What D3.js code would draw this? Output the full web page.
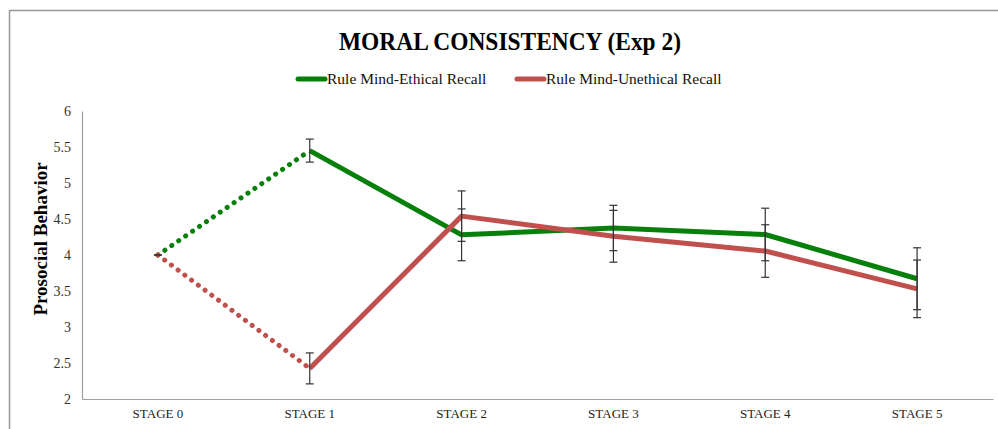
<!DOCTYPE html>
<html><head><meta charset="utf-8">
<script src="https://cdn.jsdelivr.net/npm/d3@7"></script>
<style>body{margin:0;background:#fff}svg{display:block}</style>
</head><body>
<svg id="c" width="998" height="429"></svg>
<script>
const stages = ["STAGE 0","STAGE 1","STAGE 2","STAGE 3","STAGE 4","STAGE 5"];
const ethical = [4.0, 5.45, 4.28, 4.375, 4.285, 3.67];
const ethicalErr = [0, 0.16, 0.36, 0.315, 0.365, 0.43];
const unethical = [4.0, 2.425, 4.54, 4.26, 4.055, 3.53];
const unethicalErr = [0, 0.215, 0.35, 0.36, 0.365, 0.40];
const yTicks = [2, 2.5, 3, 3.5, 4, 4.5, 5, 5.5, 6];
const seriesNames = ["Rule Mind-Ethical Recall", "Rule Mind-Unethical Recall"];
const colors = ["#07800b", "#c0504d"];

const svg = d3.select("#c");
const serif = "'Liberation Serif','Times New Roman',serif";

// frame
svg.append("path").attr("d","M9.5,429 V10.5 H998").attr("fill","none")
  .attr("stroke","#999").attr("stroke-width",1.5);

const x = d3.scaleBand().domain(stages).range([82, 993]);
const y = d3.scaleLinear().domain([2, 6]).range([399, 111]);
const cx = s => x(s) + x.bandwidth()/2;

// axes
const yAxis = svg.append("g").attr("transform","translate(82,0)")
  .call(d3.axisLeft(y).tickValues(yTicks).tickSize(0).tickPadding(11).tickFormat(d3.format("")));
yAxis.select(".domain").attr("stroke","#a0a0a0").attr("stroke-width",1.2);
yAxis.selectAll("text").attr("font-family",serif).attr("font-size",14).attr("fill","#333");

const xAxis = svg.append("g").attr("transform","translate(0,399)")
  .call(d3.axisBottom(x).tickSize(0).tickPadding(10));
xAxis.select(".domain").attr("stroke","#a0a0a0").attr("stroke-width",1.2);
xAxis.selectAll("text").attr("font-family",serif).attr("font-size",13).attr("fill","#222");

// title
svg.append("text").attr("x",510).attr("y",50).attr("text-anchor","middle")
  .attr("font-family",serif).attr("font-weight","bold").attr("font-size",26).attr("fill","#000")
  .attr("textLength",342).attr("lengthAdjust","spacingAndGlyphs")
  .text("MORAL CONSISTENCY (Exp 2)");

// y label
svg.append("text").attr("transform","translate(47,239) rotate(-90)").attr("text-anchor","middle")
  .attr("font-family",serif).attr("font-weight","bold").attr("font-size",19).attr("fill","#000")
  .text("Prosocial Behavior");

// legend
const legX = [298, 517];
seriesNames.forEach((n,i)=>{
  svg.append("line").attr("x1",legX[i]).attr("x2",legX[i]+27).attr("y1",79).attr("y2",79)
    .attr("stroke",colors[i]).attr("stroke-width",5).attr("stroke-linecap","round");
  svg.append("text").attr("x",legX[i]+29).attr("y",84).attr("font-family",serif)
    .attr("font-size",15.5).attr("fill","#111").text(n);
});

const line = d3.line().x((d,i)=>cx(d.s)).y(d=>y(d.v));
const series = [[ethical, ethicalErr],[unethical, unethicalErr]];

series.forEach(([vals,errs],k)=>{
  const pts = stages.map((s,i)=>({s, v: vals[i]}));
  // dotted segment stage0 -> stage1
  svg.append("path").attr("d", line(pts.slice(0,2))).attr("fill","none")
    .attr("stroke",colors[k]).attr("stroke-width",5).attr("stroke-linecap","round")
    .attr("stroke-dasharray","0.1 8.3");
  // solid from stage1
  svg.append("path").attr("d", line(pts.slice(1))).attr("fill","none")
    .attr("stroke",colors[k]).attr("stroke-width",5).attr("stroke-linejoin","round");
});

// error bars
series.forEach(([vals,errs],k)=>{
  stages.forEach((s,i)=>{
    const g = svg.append("g").attr("stroke","#333").attr("stroke-width",1.2);
    const X = cx(s), hi = y(vals[i]+errs[i]), lo = y(vals[i]-errs[i]);
    if (errs[i] > 0) g.append("line").attr("x1",X).attr("x2",X).attr("y1",hi).attr("y2",lo);
    g.append("line").attr("x1",X-4).attr("x2",X+4).attr("y1",hi).attr("y2",hi);
    if (errs[i] > 0) g.append("line").attr("x1",X-4).attr("x2",X+4).attr("y1",lo).attr("y2",lo);
  });
});
</script>
</body></html>
